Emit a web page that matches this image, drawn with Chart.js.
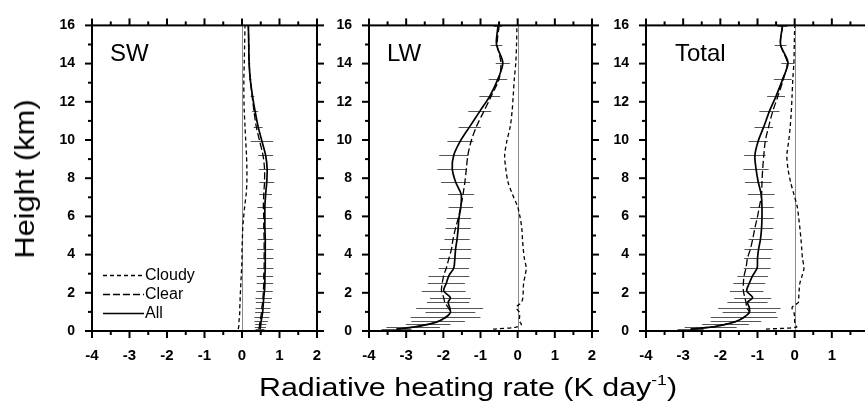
<!DOCTYPE html>
<html>
<head>
<meta charset="utf-8">
<script src="https://cdn.jsdelivr.net/npm/chart.js@4.4.1/dist/chart.umd.min.js"></script>
<style>
  html, body { margin: 0; padding: 0; background: #fff; }
  body { width: 865px; height: 409px; position: relative; overflow: hidden; font-family: "Liberation Sans", Arial, sans-serif; }
  canvas { position: absolute; top: 0; }
  #ytitle { position: absolute; left: 25px; top: 179px; font-size: 28px; white-space: nowrap;
            transform: translate(-50%, -50%) rotate(-90deg) scaleX(1.1); }
  #xtitle { position: absolute; left: 468px; top: 387px; font-size: 26px; white-space: nowrap;
            transform: translate(-50%, -50%) scaleX(1.17); }
  #xtitle sup { font-size: 15px; vertical-align: 11px; line-height: 0; }
</style>
</head>
<body>
<canvas id="swChart" width="340" height="409" style="left:0px"></canvas>
<canvas id="lwChart" width="293" height="409" style="left:322px"></canvas>
<canvas id="totChart" width="294" height="409" style="left:598px"></canvas>
<div id="ytitle">Height (km)</div>
<div id="xtitle">Radiative heating rate (K day<sup>-1</sup>)</div>

<script>
// model levels (km)
const heights = [0.1, 0.2, 0.35, 0.5, 0.72, 0.97, 1.23, 1.5, 1.75, 2.1, 2.5, 2.9, 3.3, 3.8, 4.3, 4.8,
                 5.4, 5.9, 6.5, 7.15, 7.8, 8.5, 9.2, 9.95, 10.7, 11.5, 12.3, 13.2, 14.05, 15.0, 15.95];

const xTicks = [-4, -3, -2, -1, 0, 1, 2];
const yTicks = [0, 2, 4, 6, 8, 10, 12, 14, 16];
const seriesNames = ['Cloudy', 'Clear', 'All'];

// SW
const swCloudy = [-0.1, -0.09, -0.08, -0.08, -0.07, -0.06, -0.06, -0.05, -0.05, -0.04, -0.03, -0.02, -0.01, 0.0, 0.0, 0.01,
                  0.02, 0.04, 0.07, 0.11, 0.13, 0.13, 0.12, 0.1, 0.08, 0.06, 0.05, 0.05, 0.06, 0.07, 0.08];
const swClear = [0.45, 0.46, 0.47, 0.48, 0.5, 0.52, 0.53, 0.55, 0.56, 0.57, 0.58, 0.58, 0.59, 0.59, 0.59, 0.59,
                 0.58, 0.58, 0.57, 0.58, 0.6, 0.6, 0.56, 0.47, 0.38, 0.32, 0.27, 0.22, 0.19, 0.18, 0.17];
const swAll = [0.48, 0.49, 0.5, 0.51, 0.53, 0.55, 0.56, 0.57, 0.58, 0.6, 0.61, 0.61, 0.62, 0.62, 0.62, 0.62,
               0.61, 0.61, 0.61, 0.63, 0.66, 0.67, 0.63, 0.53, 0.43, 0.35, 0.28, 0.22, 0.19, 0.18, 0.17];
const swErr = [0.12, 0.15, 0.15, 0.18, 0.2, 0.2, 0.2, 0.2, 0.22, 0.22, 0.22, 0.22, 0.22, 0.22, 0.22, 0.2,
               0.2, 0.2, 0.2, 0.17, 0.2, 0.22, 0.2, 0.3, 0.12, 0.08, 0.05, 0.03, 0.03, 0.02, 0.02];

// LW
const lwCloudy = [-0.66, -0.04, 0.1, 0.05, 0.05, 0.05, -0.04, 0.1, 0.14, 0.15, 0.16, 0.2, 0.23, 0.18, 0.15, 0.13,
                  0.11, 0.07, 0.0, -0.14, -0.26, -0.32, -0.35, -0.29, -0.2, -0.15, -0.12, -0.09, -0.05, -0.03, -0.02];
const lwClear = [-3.26, -2.81, -2.41, -2.14, -1.92, -1.81, -1.87, -1.96, -1.99, -2.05, -2.03, -1.99, -1.92, -1.85, -1.78, -1.74,
                 -1.67, -1.6, -1.53, -1.47, -1.42, -1.38, -1.34, -1.25, -1.11, -0.91, -0.71, -0.5, -0.45, -0.55, -0.5];
const lwAll = [-3.26, -2.81, -2.41, -2.14, -1.94, -1.81, -1.83, -1.87, -1.81, -1.99, -1.92, -1.85, -1.72, -1.69, -1.67, -1.63,
               -1.6, -1.58, -1.53, -1.52, -1.67, -1.76, -1.72, -1.54, -1.29, -1.02, -0.75, -0.53, -0.4, -0.57, -0.53];
const lwErr = [0.4, 0.72, 0.6, 0.72, 0.94, 0.67, 0.9, 0.57, 0.55, 0.59, 0.5, 0.55, 0.41, 0.43, 0.42, 0.34,
               0.34, 0.33, 0.33, 0.35, 0.39, 0.4, 0.39, 0.35, 0.3, 0.31, 0.28, 0.25, 0.19, 0.16, 0.11];

// Total
const totCloudy = [-0.77, 0.05, 0.02, 0.0, 0.0, -0.02, -0.07, 0.1, 0.11, 0.12, 0.14, 0.2, 0.25, 0.21, 0.19, 0.17,
                   0.14, 0.11, 0.07, -0.02, -0.11, -0.18, -0.21, -0.16, -0.12, -0.09, -0.07, -0.05, -0.02, -0.01, 0.0];
const totClear = [-2.8, -2.26, -1.86, -1.58, -1.36, -1.22, -1.29, -1.31, -1.34, -1.38, -1.38, -1.36, -1.31, -1.27, -1.19, -1.13,
                  -1.07, -1.01, -0.95, -0.89, -0.88, -0.86, -0.83, -0.79, -0.7, -0.59, -0.45, -0.3, -0.2, -0.38, -0.33];
const totAll = [-2.8, -2.26, -1.86, -1.58, -1.36, -1.22, -1.22, -1.27, -1.13, -1.29, -1.22, -1.13, -1.01, -1.0, -0.97, -0.92,
                -0.89, -0.88, -0.88, -0.9, -0.98, -1.04, -1.07, -0.98, -0.83, -0.68, -0.5, -0.32, -0.18, -0.38, -0.33];
const totErr = [0.35, 0.7, 0.63, 0.68, 0.9, 0.72, 0.84, 0.54, 0.5, 0.45, 0.43, 0.41, 0.36, 0.36, 0.38, 0.32,
                0.32, 0.32, 0.32, 0.36, 0.36, 0.34, 0.29, 0.26, 0.25, 0.27, 0.24, 0.24, 0.18, 0.16, 0.13];

const FONT = '"Liberation Sans", Arial, sans-serif';
Chart.defaults.font.family = FONT;
Chart.defaults.color = '#000';

const lineStyles = [
    { borderDash: [4, 3], borderWidth: 1.3 },
    { borderDash: [7, 3], borderWidth: 1.3 },
    { borderDash: [], borderWidth: 1.7 }
];

function toPoints(vals) {
    return vals.map((v, i) => ({ x: v, y: heights[i] }));
}

function strokeLine(ctx, x1, y1, x2, y2) {
    ctx.beginPath();
    ctx.moveTo(x1, y1);
    ctx.lineTo(x2, y2);
    ctx.stroke();
}

// zero line + error bars under the curves, frame/ticks/labels on top
const decoPlugin = {
    id: 'deco',
    beforeDatasetsDraw(chart, args, opts) {
        const ctx = chart.ctx;
        const { top, bottom } = chart.chartArea;
        const xs = chart.scales.x, ys = chart.scales.y;
        ctx.save();
        ctx.strokeStyle = '#8a8a8a';
        ctx.lineWidth = 1;
        const x0 = Math.round(xs.getPixelForValue(0)) + 0.5;
        strokeLine(ctx, x0, top, x0, bottom);

        ctx.strokeStyle = '#555';
        ctx.lineWidth = 1;
        opts.err.forEach((e, i) => {
            const y = Math.round(ys.getPixelForValue(heights[i])) + 0.5;
            strokeLine(ctx, xs.getPixelForValue(opts.center[i] - e), y, xs.getPixelForValue(opts.center[i] + e), y);
        });
        ctx.restore();
    },
    afterDraw(chart, args, opts) {
        const ctx = chart.ctx;
        const { left, right, top, bottom } = chart.chartArea;
        const xs = chart.scales.x, ys = chart.scales.y;
        ctx.save();
        ctx.strokeStyle = '#000';
        ctx.lineWidth = 2;
        ctx.strokeRect(left, top, right - left, bottom - top);

        xTicks.forEach((v, i) => {
            const p = xs.getPixelForValue(v);
            strokeLine(ctx, p, bottom, p, bottom + 7);
            strokeLine(ctx, p, top, p, top - 7);
            if (i < xTicks.length - 1) {
                const m = xs.getPixelForValue(v + 0.5);
                strokeLine(ctx, m, bottom, m, bottom + 4);
                strokeLine(ctx, m, top, m, top - 4);
            }
        });
        yTicks.forEach((v, i) => {
            const p = ys.getPixelForValue(v);
            strokeLine(ctx, left, p, left - 7, p);
            strokeLine(ctx, right, p, right + 7, p);
            if (i < yTicks.length - 1) {
                const m = ys.getPixelForValue(v + 1);
                strokeLine(ctx, left, m, left - 4, m);
                strokeLine(ctx, right, m, right + 4, m);
            }
        });

        ctx.fillStyle = '#000';
        ctx.textBaseline = 'alphabetic';
        ctx.font = '24px ' + FONT;
        ctx.fillText(opts.label, left + opts.labelOffset, top + 36);

        if (opts.legend) {
            ctx.font = '16px ' + FONT;
            chart.data.datasets.forEach((ds, i) => {
                const y = bottom - 56 + i * 19;
                ctx.lineWidth = ds.borderWidth;
                ctx.setLineDash(ds.borderDash);
                strokeLine(ctx, left + 11, y + 0.5, left + 52, y + 0.5);
                ctx.setLineDash([]);
                ctx.fillText(ds.label, left + 53, y + 5);
            });
        }
        ctx.restore();
    }
};

// padRight must cover half the last x label + the tick padding (~21px)
function makePanel(canvasId, cloudy, clear, all, err, label, labelOffset, padLeft, padRight, legend) {
    const seriesVals = [cloudy, clear, all];
    return new Chart(document.getElementById(canvasId), {
        type: 'scatter',
        data: {
            datasets: seriesVals.map((vals, i) => ({
                label: seriesNames[i],
                data: toPoints(vals),
                showLine: true,
                borderColor: '#000',
                borderWidth: lineStyles[i].borderWidth,
                borderDash: lineStyles[i].borderDash,
                pointRadius: 0,
                tension: 0.3,
                fill: false
            }))
        },
        options: {
            responsive: false,
            animation: false,
            layout: { padding: { left: padLeft, right: padRight, top: 19, bottom: 48 } },
            plugins: {
                legend: { display: false },
                tooltip: { enabled: false },
                deco: { err: err, center: all, label: label, labelOffset: labelOffset, legend: legend }
            },
            scales: {
                x: {
                    type: 'linear', min: -4, max: 2,
                    afterBuildTicks: s => { s.ticks = xTicks.map(v => ({ value: v })); },
                    afterFit: s => { s.height = 30; },
                    ticks: { font: { size: 15, weight: 'bold' }, padding: 16, maxRotation: 0 },
                    grid: { display: false, drawTicks: false },
                    border: { display: false }
                },
                y: {
                    type: 'linear', min: 0, max: 16,
                    afterBuildTicks: s => { s.ticks = yTicks.map(v => ({ value: v })); },
                    afterFit: s => { s.width = 40; },
                    ticks: { font: { size: 14, weight: 'bold' }, padding: 17 },
                    grid: { display: false, drawTicks: false },
                    border: { display: false }
                }
            }
        },
        plugins: [decoPlugin]
    });
}

makePanel('swChart', swCloudy, swClear, swAll, swErr, 'SW', 18, 52, 23, true);
makePanel('lwChart', lwCloudy, lwClear, lwAll, lwErr, 'LW', 18, 7, 23, false);
makePanel('totChart', totCloudy, totClear, totAll, totErr, 'Total', 29, 8, 23, false);
</script>
</body>
</html>
